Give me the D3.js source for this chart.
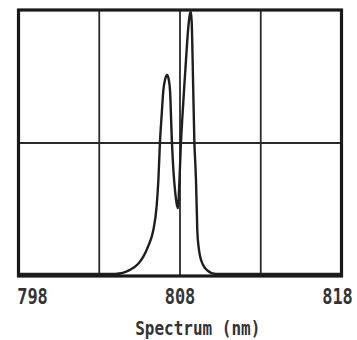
<!DOCTYPE html>
<html>
<head>
<meta charset="utf-8">
<script src="https://cdn.jsdelivr.net/npm/d3@7"></script>
<style>
  body { margin: 0; background: #fff; }
  .tickLabel, .axisLabel { font-family: "DejaVu Sans Mono", monospace; font-weight: bold; fill: #333; }
</style>
</head>
<body>
<div id="chart"></div>
<script>
// spectrum (wavelength nm, relative intensity %)
var wavelength = [798, 804.0, 804.9, 805.4, 805.73, 806.05, 806.35, 806.55, 806.66, 806.76, 806.87, 806.97, 807.07, 807.2, 807.3, 807.38, 807.5, 807.6, 807.69, 807.8, 807.88, 807.94, 808.0, 808.06, 808.16, 808.25, 808.38, 808.5, 808.6, 808.66, 808.72, 808.82, 808.89, 808.95, 808.99, 809.07, 809.15, 809.24, 809.4, 809.65, 810.2, 818];
var intensity  = [0.8, 0.8, 2.3, 4.5, 7.3, 11.5, 17.3, 26, 36, 50.4, 61, 69.9, 73.7, 75.6, 74, 69.9, 50.4, 39, 32.3, 27, 25.5, 32.3, 41, 50.4, 61, 69.9, 82, 92.5, 98, 99.5, 96, 69.9, 50.4, 42, 36.1, 17.3, 11, 7.5, 4.5, 2.3, 0.8, 0.8];

var xTicks = [798, 808, 818];
var xGrid = [803, 808, 813];
var yGrid = [50];

var margin = { top: 10, right: 15.5, bottom: 64, left: 18.5 },
  width = 357 - margin.left - margin.right,
  height = 340 - margin.top - margin.bottom;

var svg = d3.select("#chart").append("svg")
  .attr("width", 357)
  .attr("height", 340)
  .append("g")
  .attr("transform", "translate(" + margin.left + "," + margin.top + ")");

var x = d3.scaleLinear().domain([798, 818]).range([0, width]);
var y = d3.scaleLinear().domain([0, 100]).range([height, 0]);

// grid
svg.selectAll(".vgrid")
  .data(xGrid)
  .enter().append("line")
  .attr("class", "vgrid")
  .attr("x1", function (d) { return x(d); })
  .attr("x2", function (d) { return x(d); })
  .attr("y1", 0)
  .attr("y2", height)
  .style("stroke", "#2a2a2a")
  .style("stroke-width", 1.8);

svg.selectAll(".hgrid")
  .data(yGrid)
  .enter().append("line")
  .attr("class", "hgrid")
  .attr("x1", 0)
  .attr("x2", width)
  .attr("y1", function (d) { return y(d); })
  .attr("y2", function (d) { return y(d); })
  .style("stroke", "#2a2a2a")
  .style("stroke-width", 1.8);

// spectrum line
var points = wavelength.map(function (w, i) { return [w, intensity[i]]; });
var line = d3.line()
  .x(function (d) { return x(d[0]); })
  .y(function (d) { return y(d[1]); })
  .curve(d3.curveMonotoneX);

svg.append("path")
  .datum(points)
  .attr("d", line)
  .style("fill", "none")
  .style("stroke", "#1e1e1e")
  .style("stroke-width", 2.4)
  .style("stroke-linejoin", "round");

// frame
svg.append("rect")
  .attr("x", 0)
  .attr("y", 0)
  .attr("width", width)
  .attr("height", height)
  .style("fill", "none")
  .style("stroke", "#1a1a1a")
  .style("stroke-width", 3.2);

// x axis labels
var labelShift = [14, 0, -4];
svg.selectAll(".tickLabel")
  .data(xTicks)
  .enter().append("text")
  .attr("class", "tickLabel")
  .attr("transform", function (d) {
    return "translate(" + x(d) + "," + (height + 27.5) + ") scale(1,1.2)";
  })
  .attr("dx", function (d, i) { return labelShift[i]; })
  .style("text-anchor", "middle")
  .style("font-size", "17px")
  .text(function (d) { return d; });

svg.append("text")
  .attr("class", "axisLabel")
  .attr("transform", "translate(" + (x(809.1)) + "," + (height + 59) + ") scale(1,1.2)")
  .style("text-anchor", "middle")
  .style("font-size", "16px")
  .text("Spectrum (nm)");
</script>
</body>
</html>
